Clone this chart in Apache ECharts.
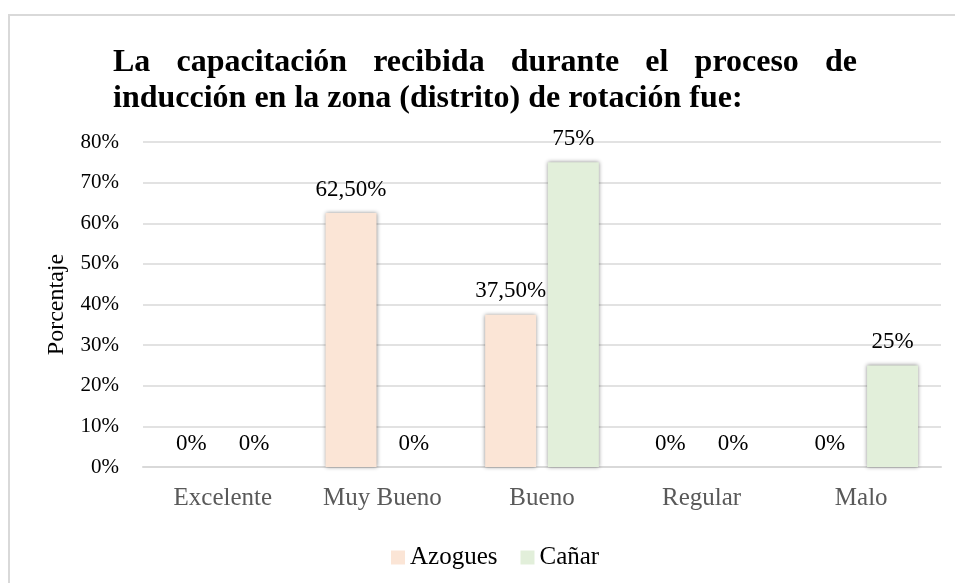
<!DOCTYPE html>
<html>
<head>
<meta charset="utf-8">
<script src="https://cdn.jsdelivr.net/npm/echarts@6/dist/echarts.min.js"></script>
<style>
html,body{margin:0;padding:0;background:#fff;}
#chart{width:955px;height:583px;}
</style>
</head>
<body>
<div id="chart"></div>
<script>
var categories = ['Excelente', 'Muy Bueno', 'Bueno', 'Regular', 'Malo'];
var azogues = [0, 62.5, 37.5, 0, 0];
var canar = [0, 0, 75, 0, 25];
var seriesNames = ['Azogues', 'Cañar'];
var titleLines = ['La capacitación recibida durante el proceso de', 'inducción en la zona (distrito) de rotación fue:'];
var yAxisName = 'Porcentaje';

var SERIF = '"Liberation Serif", "Times New Roman", serif';
var titleFont = 'bold 32px ' + SERIF;

function fmt(v) {
  if (Math.round(v) === v) return v + '%';
  return v.toFixed(2).replace('.', ',') + '%';
}

// justified title built from words
var cnv = document.createElement('canvas').getContext('2d');
cnv.font = 'bold 32px "Liberation Serif"';
var titleEls = [];
var tx0 = 113, tx1 = 857;
var lineY = [63, 99];
titleLines.forEach(function (line, li) {
  var words = line.split(' ');
  if (li === 0) {
    var widths = words.map(function (w) { return cnv.measureText(w).width; });
    var sum = widths.reduce(function (a, b) { return a + b; }, 0);
    var gap = (tx1 - tx0 - sum) / (words.length - 1);
    var x = tx0;
    words.forEach(function (w, i) {
      titleEls.push({ type: 'text', x: x, y: lineY[li], style: { text: w, font: titleFont, fill: '#000', verticalAlign: 'middle', align: 'left' } });
      x += widths[i] + gap;
    });
  } else {
    titleEls.push({ type: 'text', x: tx0, y: lineY[li], style: { text: line, font: titleFont, fill: '#000', verticalAlign: 'middle', align: 'left' } });
  }
});

var chart = echarts.init(document.getElementById('chart'));
var labelStyle = { show: true, position: 'top', distance: 12, color: '#000', fontFamily: SERIF, fontSize: 23, formatter: function (p) { return fmt(p.value); } };
var shadow = { shadowColor: 'rgba(0,0,0,0.45)', shadowBlur: 4, shadowOffsetX: 0, shadowOffsetY: 0 };

chart.setOption({
  backgroundColor: '#fff',
  animation: false,
  graphic: [{ type: 'rect', shape: { x: 9, y: 15, width: 1200, height: 1200 }, style: { fill: 'none', stroke: '#d9d9d9', lineWidth: 2 }, silent: true }].concat(titleEls),
  grid: { left: 143, right: 14, top: 142, bottom: 116 },
  legend: {
    data: seriesNames,
    left: 386, top: 540,
    itemWidth: 14, itemHeight: 14, itemGap: 23,
    icon: 'rect',
    textStyle: { fontFamily: SERIF, fontSize: 25, color: '#000', padding: [0, 0, 0, 0] }
  },
  xAxis: {
    type: 'category',
    data: categories,
    axisLine: { lineStyle: { color: '#d9d9d9', width: 2 } },
    axisTick: { show: false },
    axisLabel: { color: '#595959', fontFamily: SERIF, fontSize: 25, margin: 19 }
  },
  yAxis: {
    type: 'value',
    min: 0, max: 80, interval: 10,
    name: yAxisName,
    nameLocation: 'middle',
    nameGap: 74,
    nameTextStyle: { color: '#000', fontFamily: SERIF, fontSize: 24 },
    axisLine: { show: false },
    axisTick: { show: false },
    axisLabel: { color: '#000', fontFamily: SERIF, fontSize: 21, margin: 24, formatter: '{value}%' },
    splitLine: { lineStyle: { color: '#d9d9d9', width: 1.5 } }
  },
  series: [
    { name: seriesNames[0], type: 'bar', data: azogues, barWidth: 51, barGap: '23%', itemStyle: Object.assign({ color: '#fbe5d6' }, shadow), label: labelStyle },
    { name: seriesNames[1], type: 'bar', data: canar, barWidth: 51, barGap: '23%', itemStyle: Object.assign({ color: '#e2efda' }, shadow), label: labelStyle }
  ]
});
</script>
</body>
</html>
